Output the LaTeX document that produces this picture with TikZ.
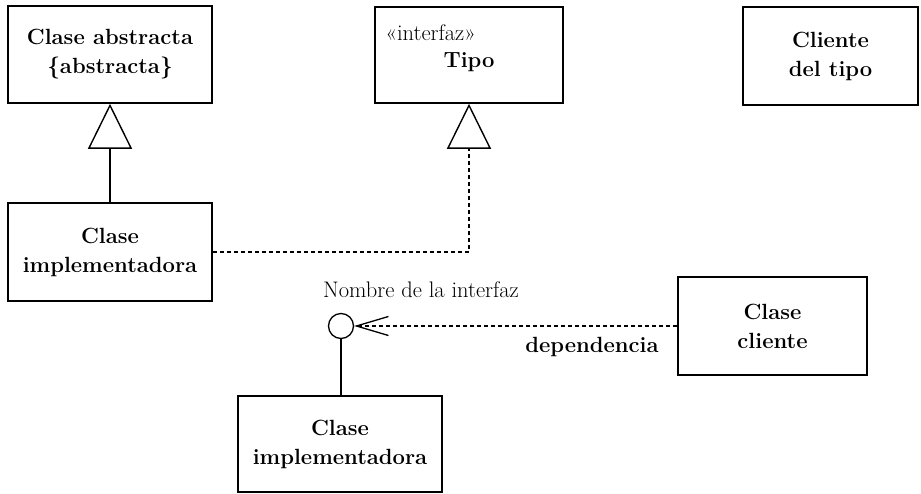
\documentclass[tikz,border=0pt]{standalone}
\usepackage{tikz}
\usetikzlibrary{arrows.meta}
\tikzset{
  umlbox/.style={draw, line width=1.6pt, inner sep=0pt, align=center,
    font=\fontsize{22}{29}\selectfont\bfseries},
  gentip/.style={-{Triangle[open,length=45pt,width=44pt,line width=1.4pt]}, line width=1.3pt},
  realiz/.style={gentip, dash pattern=on 4pt off 3pt},
  depend/.style={-{Straight Barb[length=32pt,width=19pt,line width=1.3pt]}, line width=1.2pt,
    dash pattern=on 4pt off 3pt},
  smalltxt/.style={font=\fontsize{22.5}{26}\selectfont},
  boldtxt/.style={font=\fontsize{22}{29}\selectfont\bfseries},
}
\begin{document}
\begin{tikzpicture}[x=1pt,y=1pt]
    \useasboundingbox (0,0) rectangle (921,493);
    % top row of classes
    \node[umlbox, minimum width=204, minimum height=97] (abs) at (110,438.5)
      {Clase abstracta\\\{abstracta\}};
    \node[umlbox, minimum width=188, minimum height=96] (tipo) at (469,438) {};
    \node[smalltxt, anchor=west] (tipost) at (382,460) {«interfaz»};
    \node[boldtxt] (tiponame) at (469,431) {Tipo};
    \node[umlbox, minimum width=175, minimum height=98] (clitipo) at (830.5,437)
      {Cliente\\del tipo};
    % implementing class
    \node[umlbox, minimum width=204, minimum height=98] (impl) at (110,241)
      {Clase\\implementadora};
    \draw[gentip] (impl.north) -- (abs.south);
    \draw[realiz] (impl.east) -| (tipo.south);
    % provided interface (lollipop)
    \node[circle, draw, line width=1.3pt, minimum size=25pt, inner sep=0pt] (iface) at (341,167) {};
    \node[smalltxt] (ifacename) at (421,203) {Nombre de la interfaz};
    \node[umlbox, minimum width=204, minimum height=96] (impl2) at (340,49)
      {Clase\\implementadora};
    \draw[line width=1.3pt] (iface.south) -- (iface.south |- impl2.north);
    % client and its dependency
    \node[umlbox, minimum width=189, minimum height=98] (cli) at (772.5,167)
      {Clase\\cliente};
    \draw[depend] (cli.west) -- (iface.east);
    \node[boldtxt] (deplabel) at (592,146) {dependencia};
  \end{tikzpicture}
\end{document}
